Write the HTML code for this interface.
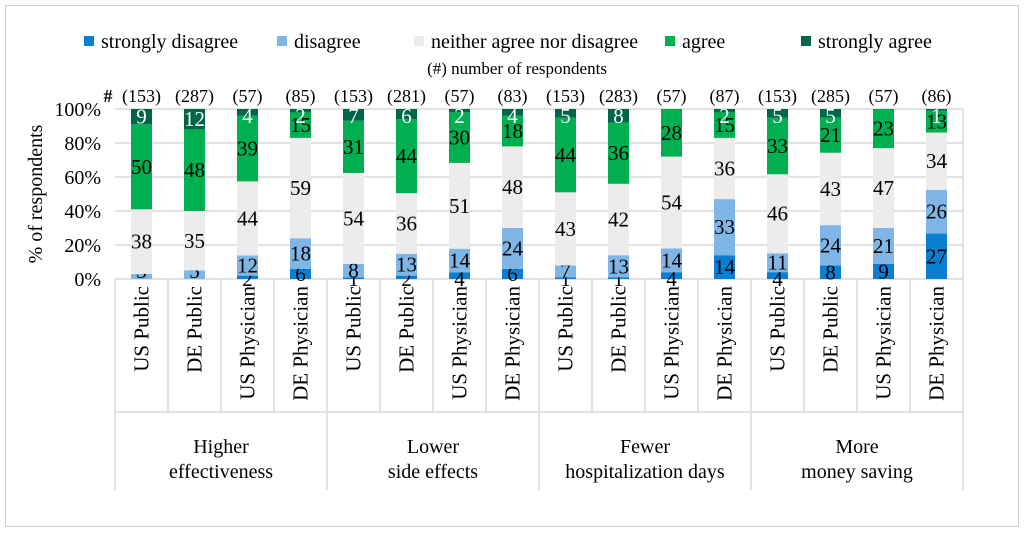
<!DOCTYPE html>
<html><head><meta charset="utf-8"><style>
body{margin:0;background:#fff;}
svg text{font-family:"Liberation Serif",serif;}
</style></head><body>
<svg width="1024" height="533" xmlns="http://www.w3.org/2000/svg">
<rect x="5.5" y="5.5" width="1013" height="521" fill="#fff" stroke="#d0d0d0"/>
<g id="legend"></g>
<text x="517" y="74" font-size="17" text-anchor="middle">(#) number of respondents</text>
<g id="plot"></g>
</svg>
<script>
const seriesNames=["strongly disagree","disagree","neither agree nor disagree","agree","strongly agree"];
const colors=["#0a7fd1","#80b6e6","#ececec","#00b050","#00664a"];
const categories=["US Public","DE Public","US Physician","DE Physician"];
const groups=[["Higher","effectiveness"],["Lower","side effects"],["Fewer","hospitalization days"],["More","money saving"]];
const respondents=[153,287,57,85,153,281,57,83,153,283,57,87,153,285,57,86];
const sDisagree=[0,0,2,6,1,2,4,6,1,1,4,14,4,8,9,27];
const disagree=[3,5,12,18,8,13,14,24,7,13,14,33,11,24,21,26];
const neither=[38,35,44,59,54,36,51,48,43,42,54,36,46,43,47,34];
const agree=[50,48,39,15,31,44,30,18,44,36,28,15,33,21,23,13];
const sAgree=[9,12,4,2,7,6,2,4,5,8,0,2,5,5,0,1];
const yTicks=[0,20,40,60,80,100];
const series=[sDisagree,disagree,neither,agree,sAgree];
const NS="http://www.w3.org/2000/svg";
const L=115,R=963,T=109,B=279,N=16,step=(R-L)/N,bw=21;
const y=v=>B-(B-T)*v/100;
const xc=i=>L+step*(i+0.5);
const plot=document.getElementById('plot');
function mk(tag,attrs,parent,txt){const e=document.createElementNS(NS,tag);for(const k in attrs)e.setAttribute(k,attrs[k]);if(txt!==undefined)e.textContent=txt;(parent||plot).appendChild(e);return e;}
yTicks.forEach(t=>{
 const g=mk('line',{x1:L,x2:R,y1:y(t),y2:y(t),stroke:'#d9d9d9','stroke-width':1.5});
 
 
 const tx=mk('text',{x:L-14,y:y(t)+7,'font-size':20,'text-anchor':'end'},plot,t+'%');
 
 
});
mk('line',{x1:R,x2:R,y1:T,y2:B,stroke:'#d9d9d9','stroke-width':1.5});
const yt=mk('text',{x:0,y:0,'font-size':20,'text-anchor':'middle',transform:`translate(42,${(T+B)/2}) rotate(-90)`},plot,'% of respondents');


for(let i=0;i<=N;i++){
 const x=L+step*i;
 mk('line',{x1:x,x2:x,y1:B,y2:i%4===0?490:412,stroke:'#d9d9d9','stroke-width':1.5});
}
mk('line',{x1:L,x2:R,y1:412,y2:412,stroke:'#d9d9d9','stroke-width':1.5});
for(let i=0;i<N;i++){
 const c=mk('text',{x:0,y:0,'font-size':21,'text-anchor':'end',transform:`translate(${xc(i)+7},${B+7}) rotate(-90)`},plot,categories[i%4]);
 
 
}
for(let i=0;i<N;i++){
 const vals=series.map(s=>s[i]);const tot=vals.reduce((a,b)=>a+b,0);
 let cum=0;
 vals.forEach((v,k)=>{
  const p=v/tot*100;const y0=y(cum),y1=y(cum+p);
  if(v>0){
   const r=mk('rect',{x:xc(i)-bw/2,y:y1,width:bw,height:y0-y1,fill:colors[k]});
   
   
   let ty=(y0+y1)/2+7;
   if(k===4) ty=Math.max(ty,y(100)+14);
   if(k<2 && p<5) ty=B+7;
   if(k===1 && p<9 && vals[0]<3) ty=Math.min(ty,B-1);
   const t=mk('text',{x:xc(i),y:ty,'font-size':21,'text-anchor':'middle',fill:k===4?'#fff':'#000'},plot,v);
   
   
  }
  cum+=p;
 });
 const n=mk('text',{x:xc(i),y:y(100)-7,'font-size':18,'text-anchor':'middle'},plot,'('+respondents[i]+')');
 
 
}
const hash=mk('text',{x:xc(0)-38,y:y(100)-7,'font-size':18,'font-weight':'bold'},plot,'#');


groups.forEach((g,j)=>{
 const cx=L+step*(4*j+2);
 g.forEach((line,li)=>{
  const t=mk('text',{x:cx,y:453+li*25,'font-size':20,'text-anchor':'middle'},plot,line);
  
  
 });
});
const lg=document.getElementById('legend');
const lx=[84,277,414,665,801];
seriesNames.forEach((s,k)=>{
 const r=mk('rect',{x:lx[k],y:36,width:10,height:10,fill:colors[k]},lg);
 
 
 const t=mk('text',{x:lx[k]+17,y:48,'font-size':20},lg,s);
 
 
});
</script>
</body></html>
